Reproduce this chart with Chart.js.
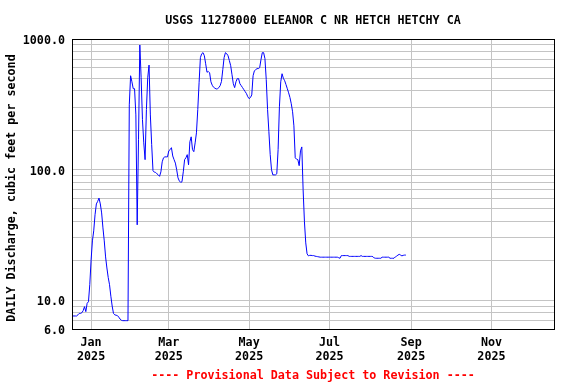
<!DOCTYPE html>
<html><head><meta charset="utf-8">
<script src="https://cdn.jsdelivr.net/npm/chart.js@4.4.1/dist/chart.umd.min.js"></script>
<style>html,body{margin:0;padding:0;background:#fff;} #wrap{width:576px;height:384px;}</style>
</head><body><div id="wrap"><canvas id="c" width="576" height="384"></canvas></div>
<script>
const chartTitle = 'USGS 11278000 ELEANOR C NR HETCH HETCHY CA';
const footerText = '---- Provisional Data Subject to Revision ----';
const yAxisTitle = 'DAILY Discharge, cubic feet per second';

// days counted from 1 Jan 2025 (day 0)
const days = [
 -14,-13,-12,-11,-10,-9,-8,-7,-6,-5,-4,-3,-2,-1,
 0,1,2,3,4,5,6,7,8,9,10,11,12,13,14,15,16,17,18,19,20,21,22,23,24,25,26,27,28,29,
 30,31,32,33,34,35,36,37,38,39,40,41,42,43,44,45,46,47,48,49,50,51,52,53,54,55,56,57,58,59,
 60,61,62,63,64,65,66,67,68,69,70,71,72,73,74,75,76,77,78,79,80,81,82,83,84,85,86,87,88,89,
 90,91,92,93,94,95,96,97,98,99,100,101,102,103,104,105,106,107,108,109,110,111,112,113,114,115,116,117,118,119,
 120,121,122,123,124,125,126,127,128,129,130,131,132,133,134,135,136,137,138,139,140,141,142,143,144,145,146,147,148,149,
 150,151,152,153,154,155,156,157,158,159,160,161,162,163,164,165,166,167,168,169,170,171,172,173,174,175,176,177,178,179,
 180,181,182,183,184,185,186,187,188,189,190,191,192,193,194,195,196,197,198,199,200,201,202,203,204,205,206,207,208,209,
 210,211,212,213,214,215,216,217,218,219,220,221,222,223,224,225,226,227,228,229,230,231,232,233,234,235,236,237,238,239
];
const flow = [
 7.55,7.55,7.55,7.55,7.7,7.9,7.9,8.0,8.3,8.9,8.15,9.45,9.7,13.1,
 20.3,28.4,33.9,45,54.5,57,60.4,54.5,46.5,35.7,28.4,21.4,17.6,14.9,13.1,10.7,9.0,7.9,7.7,7.65,7.6,7.4,7.15,7.0,6.95,6.95,6.95,6.95,6.95,313,
 523,470,416,416,262,37.7,169,900,505,241,160,119,288,505,631,262,155,98,95.5,95,92.7,91,88.7,96,114.6,123,125,125,125,139,
 142,147,127,119,112,99.5,86.3,81.8,79.8,80.5,96,119,123,130,108.7,163,178,142,137,160,191,288,462,720,771,786,744,646,556,564,
 551,470,442,427,420,414,416,424,439,473,582,720,786,771,744,683,624,532,454,424,470,497,497,454,439,424,409,395,381,361,
 349,356,373,523,571,582,593,593,603,695,786,786,708,489,288,195,130,99.5,91,91,91,92.7,142,302,470,542,500,479,447,416,
 387,356,319,277,216,123,120,119,107,139,149,70,39.7,27.4,22.6,21.8,22.0,22.0,21.9,21.9,21.7,21.6,21.5,21.4,21.3,21.3,21.3,21.3,21.3,21.3,
 21.3,21.3,21.3,21.3,21.3,21.3,21.3,21.3,21.1,20.9,21.9,21.9,21.9,21.9,21.9,21.9,21.6,21.6,21.6,21.6,21.6,21.6,21.6,21.6,21.6,21.9,21.6,21.6,21.6,21.6,
 21.6,21.6,21.6,21.6,21.5,21.0,20.9,20.9,20.9,20.9,20.9,21.3,21.3,21.3,21.3,21.3,21.3,20.9,20.9,20.9,20.9,21.4,21.7,22.1,22.4,22.1,21.8,22.0,22.1,22.1
];

const xTickDays = [0, 59, 120, 181, 243, 304];
const xTickLabels = [['Jan','2025'],['Mar','2025'],['May','2025'],['Jul','2025'],['Sep','2025'],['Nov','2025']];
const xRange = [-14.5, 351.5];

const yGridValues = [6,7,8,9,10,20,30,40,50,60,70,80,90,100,200,300,400,500,600,700,800,900,1000];
const yLabelValues = [6, 10, 100, 1000];
const yLabelTexts = ['6.0', '10.0', '100.0', '1000.0'];
const yRange = [6, 1000];

const FONT = {family: '"DejaVu Sans Mono", monospace', weight: 'bold', size: 11.7};
const FONT_CSS = 'bold 11.7px "DejaVu Sans Mono", monospace';
const GRID = 'rgb(196,196,196)';

const points = days.map((d, i) => ({x: d, y: flow[i]}));

const framePlugin = {
  id: 'frame',
  afterDraw(chart) {
    const {ctx, chartArea: a} = chart;
    ctx.save();
    ctx.strokeStyle = '#000';
    ctx.lineWidth = 1;
    ctx.strokeRect(Math.round(a.left) + 0.5, Math.round(a.top) + 0.5,
                   Math.round(a.right) - Math.round(a.left), Math.round(a.bottom) - Math.round(a.top));
    ctx.font = FONT_CSS;
    ctx.textAlign = 'center';
    ctx.textBaseline = 'middle';
    ctx.fillStyle = '#000';
    ctx.fillText(chartTitle, (a.left + a.right) / 2, 21);
    ctx.save();
    ctx.translate(12, 188);
    ctx.rotate(-Math.PI / 2);
    ctx.fillText(yAxisTitle, 0, 0);
    ctx.restore();
    ctx.fillStyle = '#ff0000';
    ctx.fillText(footerText, (a.left + a.right) / 2, 376);
    ctx.restore();
  }
};

new Chart(document.getElementById('c'), {
  type: 'line',
  data: {
    datasets: [{
      data: points,
      borderColor: '#0000ff',
      borderWidth: 1,
      pointRadius: 0,
      fill: false,
      tension: 0
    }]
  },
  options: {
    responsive: false,
    animation: false,
    devicePixelRatio: 1,
    layout: {padding: {top: 39, right: 22, left: 0, bottom: 0}},
    plugins: {legend: {display: false}, tooltip: {enabled: false}, title: {display: false}},
    scales: {
      x: {
        type: 'linear',
        min: xRange[0], max: xRange[1],
        afterFit(s) { s.height = 55; },
        afterBuildTicks(s) { s.ticks = xTickDays.map(v => ({value: v})); },
        grid: {color: GRID, lineWidth: 1, drawTicks: false},
        border: {display: false},
        ticks: {
          autoSkip: false, maxRotation: 0, padding: 7, color: '#000', font: FONT,
          callback(v) { const i = xTickDays.indexOf(v); return i >= 0 ? xTickLabels[i] : ''; }
        }
      },
      y: {
        type: 'logarithmic',
        min: yRange[0], max: yRange[1],
        afterFit(s) { s.width = 72; },
        afterBuildTicks(s) { s.ticks = yGridValues.map(v => ({value: v})); },
        grid: {color: GRID, lineWidth: 1, drawTicks: false},
        border: {display: false},
        title: {display: false},
        ticks: {
          autoSkip: false, padding: 7, labelOffset: 2, color: '#000', font: FONT,
          callback(v) { const i = yLabelValues.indexOf(v); return i >= 0 ? yLabelTexts[i] : ''; }
        }
      }
    }
  },
  plugins: [framePlugin]
});
</script>
</body></html>
